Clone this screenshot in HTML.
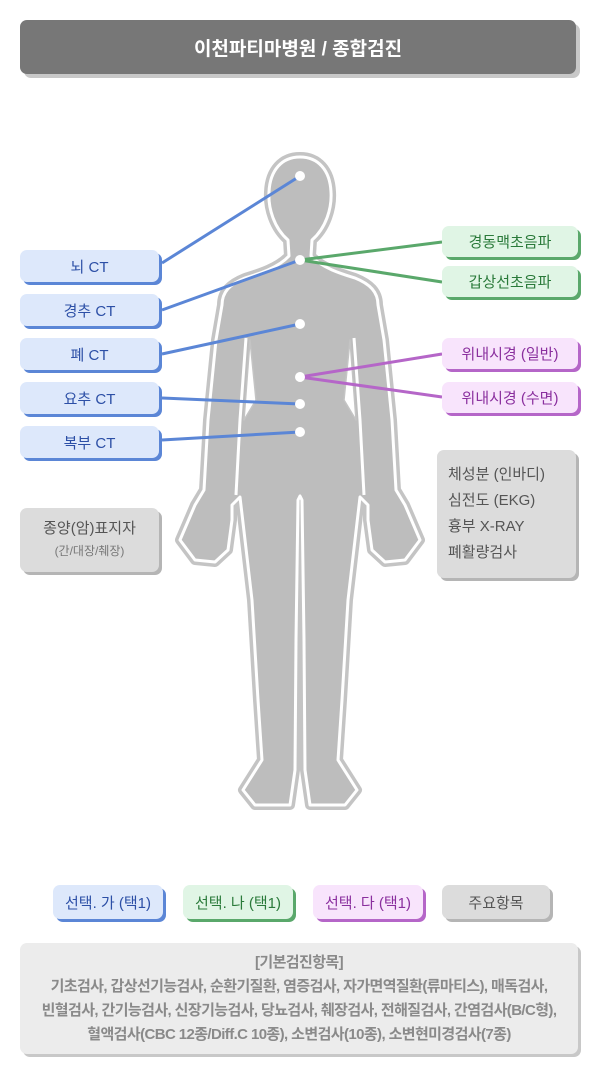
<!DOCTYPE html>
<html><head><meta charset="utf-8"><style>
body{margin:0;width:600px;height:1073px;background:#fff;position:relative;font-family:"Liberation Sans","Noto Sans CJK KR",sans-serif;overflow:hidden}
.b{position:absolute;box-sizing:border-box;border-radius:7px;display:flex;align-items:center;justify-content:center;text-align:center;font-size:15px}
.bl{background:#dde8fb;color:#2c4fa6;box-shadow:3px 3px 0 #5b86d6}
.gr{background:#e0f5e5;color:#2a7a3a;box-shadow:3px 3px 0 #5aa86b}
.pu{background:#f8e4fc;color:#8a2f9e;box-shadow:3px 3px 0 #b566c8}
.gy{background:#dcdcdc;color:#555;box-shadow:3px 3px 0 #b5b5b5}
svg{position:absolute;left:0;top:0}
</style></head><body>
<div class="b" style="left:20px;top:20px;width:556px;height:54px;background:#777;color:#fff;font-weight:bold;font-size:19px;box-shadow:4px 4px 0 #c8c8c8">이천파티마병원 / 종합검진</div>
<svg width="600" height="1073">
<defs>
<path id="body" d="M300,157 C318,157 330,170 331,192 C332,208 326,228 312,240 L311,256 C322,268 342,274 355,278 C370,284 378,292 378,305 L384,340 L392,420 L396,490 L405,505 L420,540 L405,560 L385,562 L372,550 L368,520 L368,505 L360,497 L348,600 L345,650 L342,700 L338,760 L357,790 L345,805 L310,805 L305,770 L304,640 L302,500 L300,496 L298,500 L296,640 L295,770 L290,805 L255,805 L243,790 L262,760 L258,700 L255,650 L252,600 L240,497 L232,505 L232,520 L228,550 L215,562 L195,560 L180,540 L195,505 L204,490 L208,420 L216,340 L222,305 C222,292 230,284 245,278 C258,274 278,268 289,256 L288,240 C274,228 268,208 269,192 C270,170 282,157 300,157 Z"/>
</defs>
<g stroke-linejoin="round">
<use href="#body" fill="#bdbdbd" stroke="#c4c4c4" stroke-width="10"/>
<use href="#body" fill="#bdbdbd" stroke="#fff" stroke-width="3"/>
<g fill="none" stroke="#fff" stroke-width="3">
<path d="M246,338 L240,420 L236,495"/>
<path d="M354,338 L360,420 L364,495"/>
</g>
<g fill="#fff" stroke="#c4c4c4" stroke-width="1.5">
<path d="M250,340 L244,420 L256,400 Z"/>
<path d="M350,340 L356,420 L344,400 Z"/>
</g>
</g>
<g stroke-width="3" fill="none">
<g stroke="#5b86d6">
<line x1="162" y1="263" x2="300" y2="176"/><line x1="162" y1="310" x2="300" y2="260"/><line x1="162" y1="354" x2="300" y2="324"/><line x1="162" y1="398" x2="300" y2="404"/><line x1="162" y1="440" x2="300" y2="432"/>
</g>
<g stroke="#5aa86b"><line x1="300" y1="260" x2="442" y2="242"/><line x1="300" y1="260" x2="442" y2="282"/></g>
<g stroke="#b566c8"><line x1="300" y1="377" x2="442" y2="354"/><line x1="300" y1="377" x2="442" y2="397"/></g>
</g>
<g fill="#fff"><circle cx="300" cy="176" r="5"/><circle cx="300" cy="260" r="5"/><circle cx="300" cy="324" r="5"/><circle cx="300" cy="377" r="5"/><circle cx="300" cy="404" r="5"/><circle cx="300" cy="432" r="5"/></g>
</svg>
<div class="b bl" style="left:20px;top:250px;width:139px;height:32px">뇌 CT</div>
<div class="b bl" style="left:20px;top:294px;width:139px;height:32px">경추 CT</div>
<div class="b bl" style="left:20px;top:338px;width:139px;height:32px">폐 CT</div>
<div class="b bl" style="left:20px;top:382px;width:139px;height:32px">요추 CT</div>
<div class="b bl" style="left:20px;top:426px;width:139px;height:32px">복부 CT</div>
<div class="b gr" style="left:442px;top:226px;width:136px;height:31px">경동맥초음파</div>
<div class="b gr" style="left:442px;top:266px;width:136px;height:31px">갑상선초음파</div>
<div class="b pu" style="left:442px;top:338px;width:136px;height:31px">위내시경 (일반)</div>
<div class="b pu" style="left:442px;top:382px;width:136px;height:31px">위내시경 (수면)</div>
<div class="b gy" style="left:437px;top:450px;width:139px;height:128px;flex-direction:column;align-items:flex-start;text-align:left;padding-left:11px;line-height:26px">체성분 (인바디)<br>심전도 (EKG)<br>흉부 X-RAY<br>폐활량검사</div>
<div class="b gy" style="left:20px;top:508px;width:139px;height:64px;flex-direction:column;line-height:22px">종양(암)표지자<span style="font-size:12px;color:#777">(간/대장/췌장)</span></div>
<div class="b bl" style="left:53px;top:885px;width:110px;height:34px">선택. 가 (택1)</div>
<div class="b gr" style="left:183px;top:885px;width:110px;height:34px">선택. 나 (택1)</div>
<div class="b pu" style="left:313px;top:885px;width:110px;height:34px">선택. 다 (택1)</div>
<div class="b gy" style="left:442px;top:885px;width:108px;height:34px">주요항목</div>
<div class="b" style="left:20px;top:943px;width:558px;height:111px;background:#ececec;box-shadow:3px 3px 0 #c8c8c8;color:#8a8a8a;font-size:15px;font-weight:bold;line-height:24px;letter-spacing:-0.6px"><div>[기본검진항목]<br>기초검사, 갑상선기능검사, 순환기질환, 염증검사, 자가면역질환(류마티스), 매독검사,<br>빈혈검사, 간기능검사, 신장기능검사, 당뇨검사, 췌장검사, 전해질검사, 간염검사(B/C형),<br>혈액검사(CBC 12종/Diff.C 10종), 소변검사(10종), 소변현미경검사(7종)</div></div>
</body></html>
